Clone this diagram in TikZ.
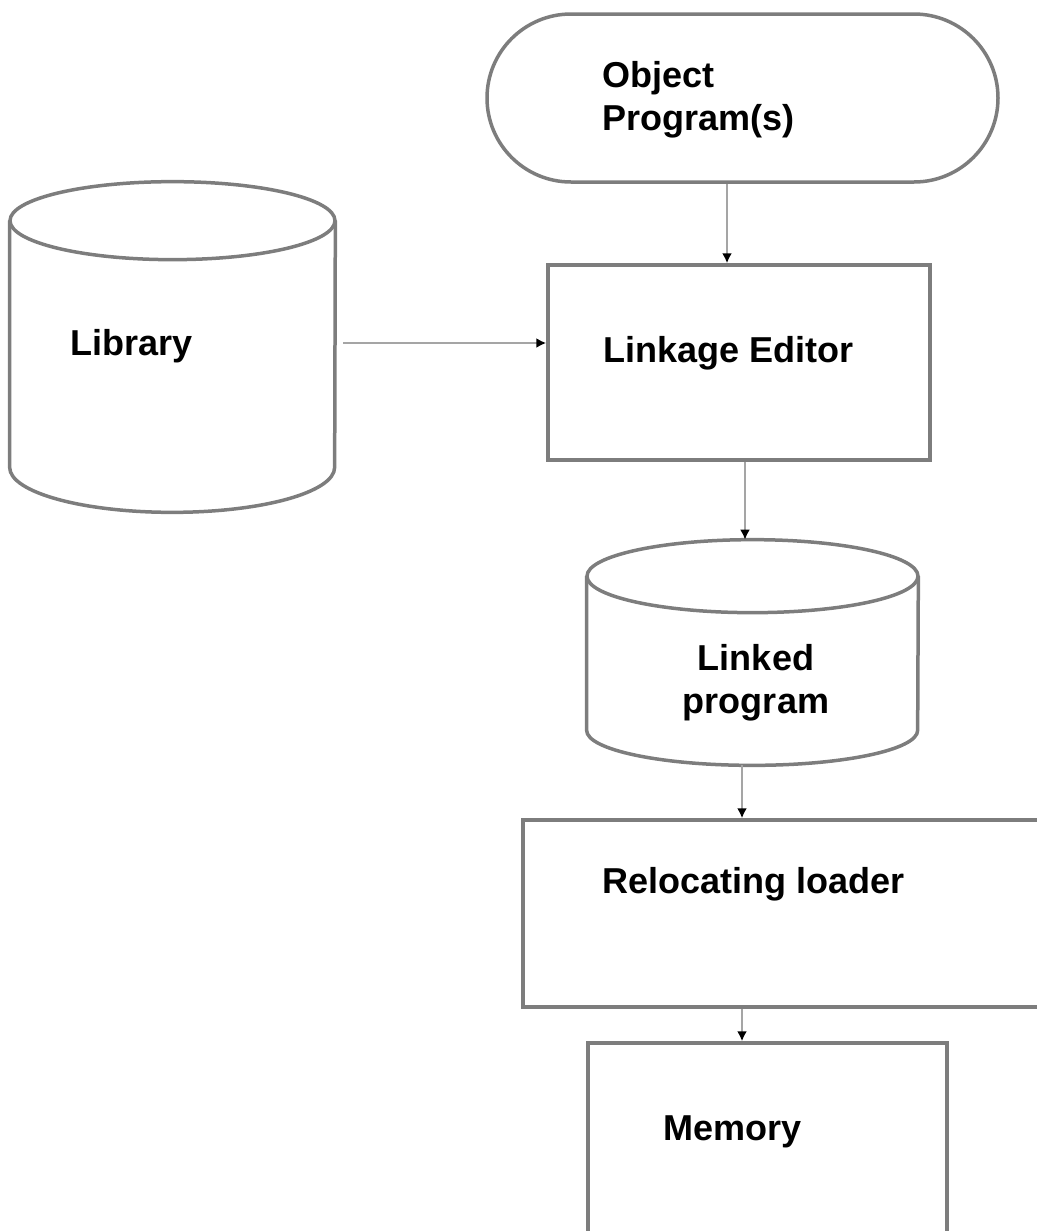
\documentclass[tikz,border=0pt]{standalone}
\usepackage{fontspec}
\setmainfont{Liberation Sans}
\usetikzlibrary{arrows.meta,shapes.misc,calc}
\definecolor{edgegray}{RGB}{125,125,125}
\definecolor{conngray}{RGB}{165,165,165}
\def\u{0.02cm}
\begin{document}
\begin{tikzpicture}[x=0.02cm,y=-0.02cm,
  shapeline/.style={draw=edgegray,line width=0.07cm},
  boxnode/.style={shapeline, rectangle, inner sep=0pt},
  ghost/.style={rectangle, inner sep=0pt},
  lbl/.style={font=\fontsize{20.5pt}{24.6pt}\selectfont\bfseries, inner sep=0pt, text=black},
  conn/.style={draw=conngray, line width=0.05cm, -{Latex[length=0.2cm,width=0.2cm,color=black]}}
]
\useasboundingbox (0,0) rectangle (1037,1231);
\clip (0,0) rectangle (1037,1231);

% shapes
\node[shapeline, rounded rectangle, inner sep=0pt, minimum width=511*\u, minimum height=168*\u] (op) at (742.5,98) {};
\node[boxnode, minimum width=382*\u, minimum height=195*\u] (le) at (739,362.5) {};
\node[ghost, minimum width=325*\u, minimum height=330*\u] (lib) at (172.5,347) {};
\node[ghost, minimum width=331*\u, minimum height=225*\u] (lp) at (752.5,652.5) {};
\node[boxnode, minimum width=587*\u, minimum height=187*\u] (rl) at (816.5,913.5) {};
\node[boxnode, minimum width=359*\u, minimum height=257*\u] (mem) at (767.5,1171.5) {};

% library cylinder
\draw[shapeline] ($(lib.north)+(0,39)$) ellipse [x radius=162.5, y radius=39];
\draw[shapeline] ($(lib.north west)+(0,39)$) -- ($(lib.south west)+(0,-45)$)
  arc[start angle=180, end angle=0, x radius=162.5, y radius=45]
  -- ($(lib.north east)+(0,39)$);

% linked program cylinder
\draw[shapeline] ($(lp.north)+(0,36.5)$) ellipse [x radius=165.5, y radius=36.5];
\draw[shapeline] ($(lp.north west)+(0,36.5)$) -- ($(lp.south west)+(0,-35)$)
  arc[start angle=180, end angle=0, x radius=165.5, y radius=35]
  -- ($(lp.north east)+(0,36.5)$);

% labels
\node[lbl, anchor=west, align=left] (opl) at (602,100) {Object\\Program(s)};
\node[lbl, anchor=base west] (lel) at (603,362) {Linkage Editor};
\node[lbl, anchor=base west] (libl) at (70,355) {Library};
\node[lbl, align=center] (lpl) at (756,683) {Linked\\program};
\node[lbl, anchor=base west] (rll) at (602,893) {Relocating loader};
\node[lbl, anchor=base west] (meml) at (663,1140) {Memory};

% connectors
\coordinate (x1) at (727,0);
\coordinate (x2) at (745,0);
\coordinate (x3) at (742,0);
\coordinate (y1) at (0,343);
\coordinate (libout) at (343,343);
\draw[conn] (op.south -| x1) -- (le.north -| x1);
\draw[conn] (libout) -- (le.west |- y1);
\draw[conn] (le.south -| x2) -- (lp.north -| x2);
\draw[conn] (lp.south -| x3) -- (rl.north -| x3);
\draw[conn] (rl.south -| x3) -- (mem.north -| x3);
\end{tikzpicture}
\end{document}
